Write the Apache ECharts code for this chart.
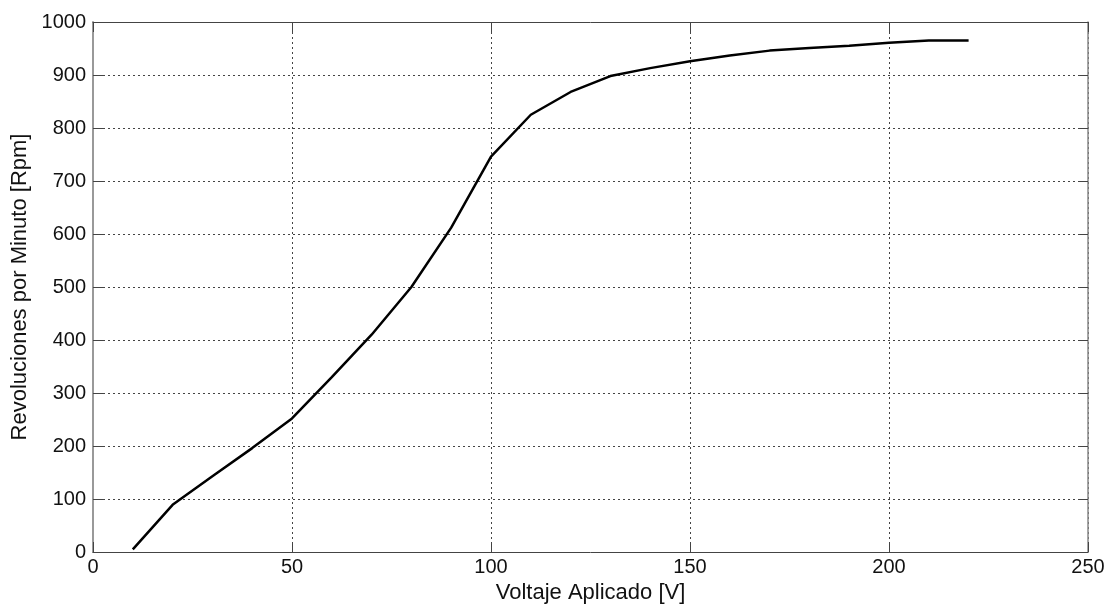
<!DOCTYPE html>
<html>
<head>
<meta charset="utf-8">
<script src="https://cdn.jsdelivr.net/npm/echarts@6/dist/echarts.min.js"></script>
<style>
html,body{margin:0;padding:0;background:#fff;}
#chart{width:1113px;height:604px;}
</style>
</head>
<body>
<div id="chart"></div>
<script>
const voltage = [10,20,30,40,50,60,70,80,90,100,110,120,130,140,150,160,170,180,190,200,210,220];
const rpm     = [5,89,143,196,252,330,410,500,612,746,825,868,898,913,926,937,946,951,955,961,965,965];
const xTitle = 'Voltaje Aplicado [V]';
const yTitle = 'Revoluciones por Minuto [Rpm]';

const font = 'Liberation Sans, Arial, Helvetica, sans-serif';
const chart = echarts.init(document.getElementById('chart'), null, {renderer:'canvas'});
const grid = {left:93, right:25, top:22, bottom:52, containLabel:false, outerBoundsMode:'none'};
const gridLine = {show:true, lineStyle:{color:'#444', width:1, type:[2,3]}};
const plain = v => String(v);
chart.setOption({
  animation:false,
  backgroundColor:'#fff',
  grid: grid,
  xAxis: [{
    type:'value', min:0, max:250, interval:50, position:'bottom',
    name:xTitle, nameLocation:'middle', nameGap:27,
    nameTextStyle:{fontFamily:font, fontSize:22, color:'#111'},
    axisLine:{show:true, onZero:false, lineStyle:{color:'#444', width:1}},
    axisTick:{show:true, inside:true, length:10, lineStyle:{color:'#444'}},
    axisLabel:{fontFamily:font, fontSize:20, color:'#111', margin:5, formatter:plain},
    splitLine: gridLine
  },{
    type:'value', min:0, max:250, interval:50, position:'top',
    axisLine:{show:true, onZero:false, lineStyle:{color:'#444', width:1}},
    axisTick:{show:true, inside:true, length:10, lineStyle:{color:'#444'}},
    axisLabel:{show:false}, splitLine:{show:false}
  }],
  yAxis: [{
    type:'value', min:0, max:1000, interval:100, position:'left',
    name:yTitle, nameLocation:'middle', nameGap:62, nameRotate:90,
    nameTextStyle:{fontFamily:font, fontSize:22, color:'#111'},
    axisLine:{show:true, onZero:false, lineStyle:{color:'#999', width:2}},
    axisTick:{show:true, inside:true, length:10, lineStyle:{color:'#444'}},
    axisLabel:{fontFamily:font, fontSize:20, color:'#111', margin:7, formatter:plain},
    splitLine: gridLine
  },{
    type:'value', min:0, max:1000, interval:100, position:'right',
    axisLine:{show:true, onZero:false, lineStyle:{color:'#888', width:1.5}},
    axisTick:{show:true, inside:true, length:10, lineStyle:{color:'#444'}},
    axisLabel:{show:false}, splitLine:{show:false}
  }],
  series: [{
    type:'line', xAxisIndex:0, yAxisIndex:0,
    data: voltage.map((v,i)=>[v, rpm[i]]),
    showSymbol:false, symbol:'none',
    lineStyle:{color:'#000', width:2.5},
    silent:true
  }]
});
</script>
</body>
</html>
